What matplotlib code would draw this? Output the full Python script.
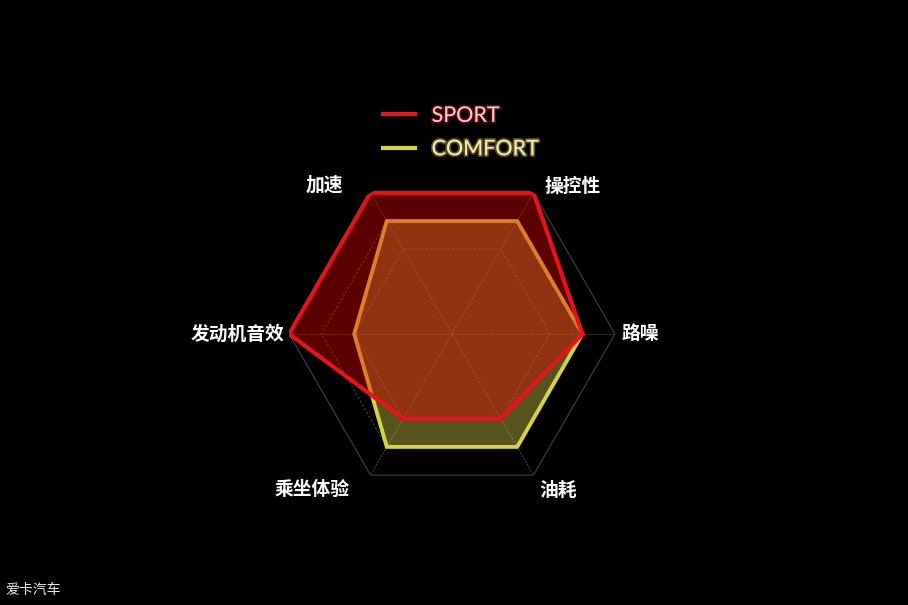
import numpy as np
import matplotlib
matplotlib.use("Agg")
from matplotlib import pyplot as plt
import matplotlib.patheffects as pe

plt.rcParams['font.family'] = ['Noto Sans CJK SC', 'DejaVu Sans']

categories = ['路噪', '操控性', '加速', '发动机音效', '乘坐体验', '油耗']
sport = [0.8, 1.0, 1.0, 1.0, 0.6, 0.6]
comfort = [0.8, 0.8, 0.8, 0.6, 0.8, 0.8]
rings = [0.6, 0.8, 1.0]

n = len(categories)
theta = np.arange(n) * 2 * np.pi / n
theta_c = np.append(theta, theta[0])

def closed(v):
    return np.append(v, v[0])

fig = plt.figure(figsize=(9.08, 6.05), dpi=100, facecolor='black')
ax = fig.add_axes([0.3183, 0.1785, 0.359, 0.539], projection='polar')
ax.set_facecolor('black')
ax.set_ylim(0, 1.0)
ax.grid(False)
ax.set_xticks([])
ax.set_yticks([])
ax.spines['polar'].set_visible(False)

# hexagon grid
for r in rings:
    ls = '-' if r == 1.0 else (0, (2, 1.5))
    ax.plot(theta_c, [r] * (n + 1), color='#3c3c3c', lw=0.9, ls=ls, zorder=1)
for t in theta:
    ax.plot([t, t], [0, 1.0], color='#3c3c3c', lw=0.8, ls=(0, (2, 1)), zorder=1)

# comfort first, sport on top
ax.fill(theta_c, closed(comfort), color='#dcd046', alpha=0.4, lw=0, zorder=2)
l_comfort, = ax.plot(theta_c, closed(comfort), color='#d8d24a', lw=2.8, zorder=3,
                     solid_joinstyle='miter')
ax.fill(theta_c, closed(sport), color='#e60000', alpha=0.4, lw=0, zorder=4)
l_sport, = ax.plot(theta_c, closed(sport), color='#e4141a', lw=3.0, zorder=5,
                   solid_joinstyle='miter')

# axis labels
label_pos = {
    '路噪': (0.0, 1.04, 'left', 'center'),
    '操控性': (np.deg2rad(50.7), 1.17, 'center', 'center'),
    '加速': (np.deg2rad(130.6), 1.2, 'center', 'center'),
    '发动机音效': (np.pi, 1.03, 'right', 'center'),
    '乘坐体验': (np.deg2rad(228), 1.28, 'center', 'center'),
    '油耗': (np.deg2rad(304), 1.16, 'center', 'center'),
}
for name in categories:
    t, r, ha, va = label_pos[name]
    ax.text(t, r, name, color='white', fontsize=13.5, fontweight='bold',
            ha=ha, va=va, clip_on=False)

leg = fig.legend([l_sport, l_comfort], ['SPORT', 'COMFORT'], loc='upper left',
                 bbox_to_anchor=(0.4006, 0.857), frameon=False, handlelength=1.5,
                 handletextpad=0.75, labelspacing=0.62,
                 prop={'family': 'Lato', 'size': 15.5})
glow = ['#a01020', '#a89030']
txtc = ['#f2d0d0', '#f6ecc8']
for txt, g, c in zip(leg.get_texts(), glow, txtc):
    txt.set_color(c)
    txt.set_path_effects([pe.withStroke(linewidth=2.5, foreground=g, alpha=0.55)])
for h in leg.legend_handles:
    h.set_linewidth(3)

fig.text(0.006, 0.025, '爱卡汽车', color='#e8e8e8', fontsize=10, ha='left', va='center')

fig.savefig('out.png', dpi=100, facecolor='black')
